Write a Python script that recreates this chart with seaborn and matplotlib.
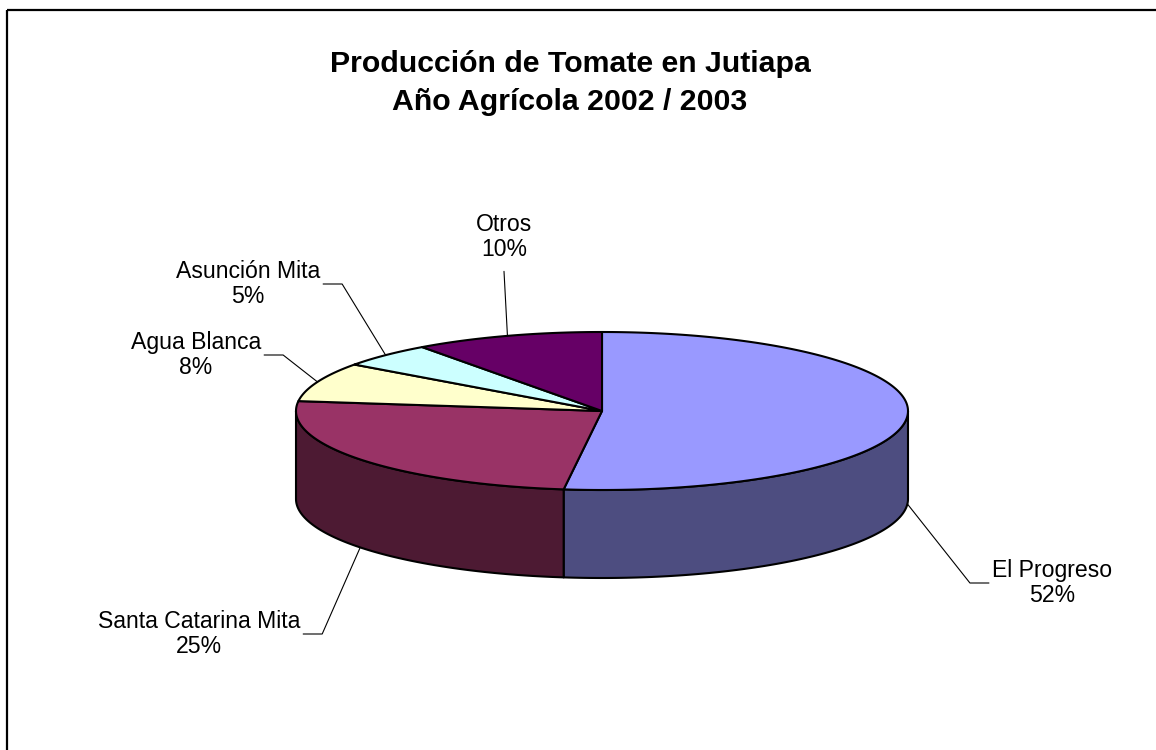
import matplotlib
matplotlib.use("Agg")
import matplotlib.pyplot as plt
from matplotlib.patches import Polygon, Rectangle
import numpy as np
import seaborn as sns

# Datos
municipios = ["El Progreso", "Santa Catarina Mita", "Agua Blanca", "Asunción Mita", "Otros"]
porcentajes = [52, 25, 8, 5, 10]
colores = ["#9999FF", "#993366", "#FFFFCC", "#CCFFFF", "#660066"]
titulo = ["Producción de Tomate en Jutiapa", "Año Agrícola 2002 / 2003"]

sns.set_style("white")
plt.rcParams['font.family'] = ['Liberation Sans', 'DejaVu Sans']
plt.rcParams['text.color'] = 'black'

# Geometria del pastel 3D (pixeles)
cx, cy = 602, 411
rx, ry = 306, 79
prof = 88

# Posicion de cada etiqueta (centro del bloque) y lado
pos_etiquetas = [(1052, 583, 'der'), (199, 634, 'izq'), (196, 355, 'izq'),
                 (248, 284, 'izq'), (504, 237, 'arriba')]


def punto(theta, dz=0):
    t = np.radians(theta)
    return cx + rx * np.sin(t), cy - ry * np.cos(t) + dz


fig = plt.figure(figsize=(11.56, 7.5), dpi=100)
ax = fig.add_axes([0, 0, 1, 1])
ax.set_xlim(0, 1156)
ax.set_ylim(750, 0)
ax.axis('off')

# Marco (solo se ven borde izquierdo y superior)
ax.add_patch(Rectangle((7, 10), 1200, 800, fill=False, edgecolor='black', lw=1.6))

total = sum(porcentajes)
limites = np.cumsum([0] + porcentajes) / total * 360

# Caras laterales (solo la mitad frontal)
for i, c in enumerate(colores):
    a0, a1 = limites[i], limites[i + 1]
    lo, hi = max(a0, 90), min(a1, 270)
    if hi <= lo:
        continue
    th = np.linspace(lo, hi, 100)
    arriba = [punto(t) for t in th]
    abajo = [punto(t, prof) for t in th[::-1]]
    lado = np.array(matplotlib.colors.to_rgb(c)) * 0.5
    ax.add_patch(Polygon(arriba + abajo, closed=True, facecolor=lado,
                         edgecolor='black', lw=1.5, joinstyle='round'))

# Caras superiores
for i, c in enumerate(colores):
    a0, a1 = limites[i], limites[i + 1]
    th = np.linspace(a0, a1, 200)
    pts = [(cx, cy)] + [punto(t) for t in th]
    ax.add_patch(Polygon(pts, closed=True, facecolor=c,
                         edgecolor='black', lw=1.5, joinstyle='round'))

# Titulo
ax.text(570, 72, titulo[0], ha='center', va='baseline', fontsize=21.8,
        fontweight='bold', color='black')
ax.text(570, 110, titulo[1], ha='center', va='baseline', fontsize=21.8,
        fontweight='bold', color='black')

# Etiquetas con lineas guia
fig.canvas.draw()
renderer = fig.canvas.get_renderer()
inv = ax.transData.inverted()
for i, nombre in enumerate(municipios):
    lx, ly, lado = pos_etiquetas[i]
    t = ax.text(lx, ly, f"{nombre}\n{porcentajes[i]:.0f}%", ha='center', va='center',
                multialignment='center', fontsize=16.6, linespacing=1.15, color='black')
    bb = t.get_window_extent(renderer)
    (x0, y1), (x1, y0) = inv.transform([(bb.x0, bb.y0), (bb.x1, bb.y1)])
    media = (limites[i] + limites[i + 1]) / 2
    dz = prof if 90 < media < 270 else 0
    px, py = punto(media, dz)
    if lado == 'der':
        xs = [px, x0 - 22, x0 - 3]
        ys = [py, ly, ly]
    elif lado == 'izq':
        xs = [px, x1 + 22, x1 + 3]
        ys = [py, ly, ly]
    else:
        xs = [px, lx]
        ys = [py, y1 + 10]
    ax.plot(xs, ys, color='black', lw=0.8)

fig.savefig('out.png', dpi=100)
